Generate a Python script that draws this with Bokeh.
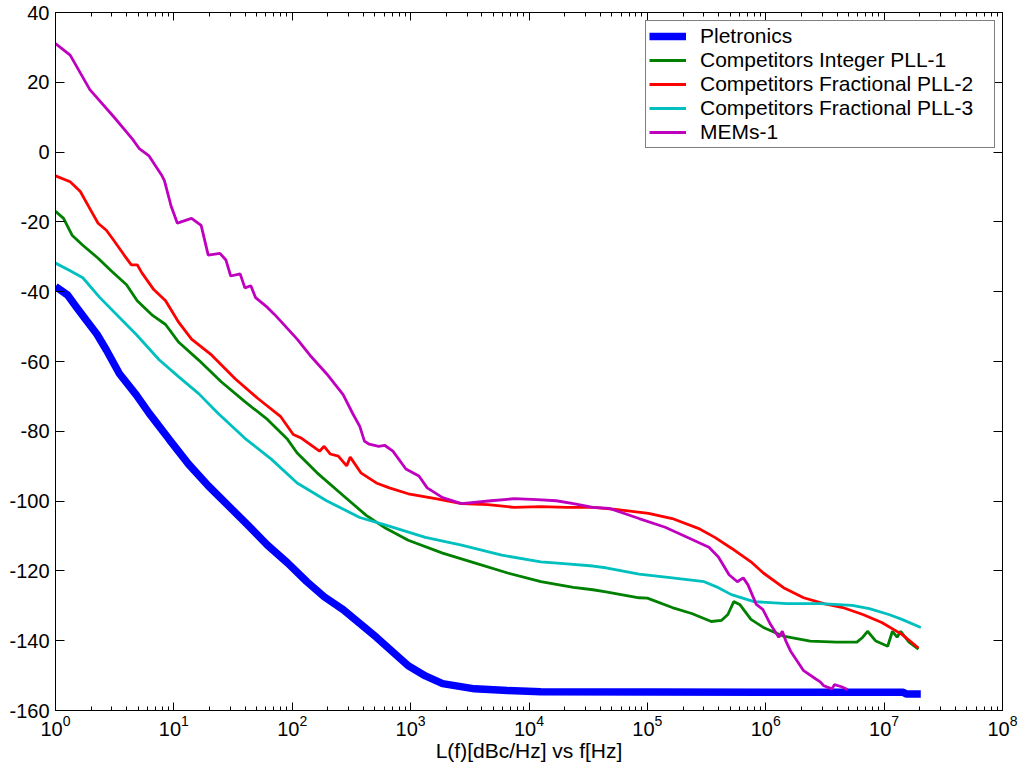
from bokeh.plotting import figure
from bokeh.models import (LogAxis, LinearAxis, Legend, LegendItem, FixedTicker,
                          LogTicker, CustomJSTickFormatter)
from bokeh.embed import file_html
from bokeh.resources import INLINE

# ---------------- data (frequency in Hz, phase noise in dBc/Hz) ----------------
pletronics_f = [1, 1.26, 1.51, 1.82, 2.24, 2.69, 3.47, 4.79, 6.17, 9.12, 13.3, 19.5,
                28.8, 42.2, 61.7, 91.2, 133, 186, 269, 513, 955, 1333, 1862, 3467,
                6607, 12590, 1e6, 1.45e7, 1.55e7, 2.04e7]
pletronics_db = [-38.5, -40.9, -44.5, -48.2, -52.2, -56.7, -63.5, -69.5, -74.8, -82.3,
                 -89.4, -95.6, -101.3, -106.9, -112.6, -117.7, -123.1, -127.4, -131.1,
                 -139.0, -147.2, -150.1, -152.3, -153.8, -154.3, -154.6, -154.8,
                 -154.8, -155.3, -155.3]

pll1_f = [1, 1.17, 1.38, 1.70, 2.29, 2.95, 3.98, 4.90, 6.61, 8.51, 11.0, 16.2, 25.1,
          39.8, 61.7, 91.2, 110, 162, 269, 422, 617, 955, 1862, 3467, 6607, 12590,
          23710, 34670, 44670, 85110, 100000, 162200, 237100, 346700, 421700, 478600,
          537000, 602600, 749900, 955000, 1.413e6, 2.371e6, 3.981e6, 5.888e6, 6.607e6,
          7.244e6, 8.511e6, 1.072e7, 1.175e7, 1.288e7, 1.380e7, 1.622e7, 1.950e7]
pll1_db = [-17.0, -19.0, -23.8, -26.7, -30.4, -34.0, -38.0, -42.6, -46.8, -49.4, -54.5,
           -59.6, -65.8, -71.5, -76.6, -82.3, -86.2, -91.9, -98.4, -104.1, -107.8,
           -111.2, -114.9, -117.7, -120.6, -123.1, -124.7, -125.4, -126.0, -127.7,
           -127.8, -130.5, -132.2, -134.5, -134.2, -132.5, -128.8, -129.6, -133.9,
           -136.2, -138.7, -140.1, -140.4, -140.4, -139.0, -137.3, -140.1, -141.6,
           -137.3, -139.0, -137.3, -140.4, -142.4]

pll2_f = [1, 1.33, 1.62, 1.95, 2.29, 2.69, 3.09, 3.80, 4.37, 4.90, 5.37, 6.76, 8.51,
          11.0, 14.1, 20.9, 33.1, 51.3, 79.4, 102, 110, 120, 170, 186, 209, 245, 288,
          309, 380, 513, 661, 955, 1622, 2692, 4467, 7499, 12590, 20890, 34670, 53700,
          102300, 162200, 269200, 371500, 512900, 749900, 955000, 1.413e6, 2.089e6,
          3.09e6, 4.467e6, 6.607e6, 9.55e6, 1.413e7, 1.95e7]
pll2_db = [-6.8, -8.5, -11.3, -16.2, -20.4, -22.4, -25.2, -29.5, -32.3, -32.3, -34.6,
           -39.4, -42.6, -48.8, -53.6, -58.2, -65.0, -70.6, -75.7, -80.9, -81.4, -82.0,
           -85.7, -84.3, -86.5, -87.1, -89.9, -87.4, -91.9, -94.8, -96.2, -97.9, -99.3,
           -100.7, -101.0, -101.8, -101.6, -101.8, -101.8, -102.4, -103.5, -105.0,
           -107.8, -110.4, -113.5, -117.4, -120.6, -124.8, -127.7, -129.4, -130.5,
           -132.5, -134.8, -138.2, -142.1]

pll3_f = [1, 1.33, 1.70, 2.37, 3.47, 4.79, 7.50, 11.0, 16.2, 23.7, 39.8, 66.1, 110, 195,
          372, 617, 1333, 2692, 5888, 12590, 20890, 34670, 44670, 85110, 162200,
          302000, 398100, 512900, 794300, 1.514e6, 2.884e6, 5.370e6, 7.499e6, 1.096e7,
          1.413e7, 2.042e7]
pll3_db = [-31.8, -34.0, -36.0, -41.7, -47.4, -52.2, -59.5, -64.4, -69.2, -74.9, -82.0,
           -87.9, -94.8, -99.9, -104.7, -106.9, -110.4, -112.6, -115.5, -117.4, -118.0,
           -118.6, -119.1, -120.9, -122.0, -123.1, -124.8, -126.8, -128.8, -129.4,
           -129.4, -129.9, -130.8, -132.5, -133.9, -136.2]

mems_f = [1, 1.33, 1.95, 3.09, 4.47, 5.13, 6.17, 7.94, 8.32, 9.12, 9.44, 10.7, 11.5,
          14.1, 17.0, 19.5, 24.5, 27.5, 30.2, 36.3, 39.8, 44.7, 49.0, 61.7, 70.8, 110,
          141, 195, 269, 324, 372, 407, 447, 537, 603, 708, 912, 1175, 1380, 1862, 2692,
          4786, 7499, 11750, 16980, 23710, 34670, 47860, 85110, 141300, 223900, 331100,
          398100, 489800, 575400, 645700, 707900, 831800, 944100, 1.096e6, 1.288e6,
          1.380e6, 1.479e6, 1.622e6, 2.089e6, 2.630e6, 2.884e6, 3.090e6, 3.631e6,
          3.802e6, 4.365e6, 4.898e6]
mems_db = [31.1, 27.8, 17.9, 10.2, 3.7, 0.9, -1.1, -6.8, -8.2, -13.3, -15.3, -20.4,
           -20.0, -19.0, -21.0, -29.5, -29.0, -30.9, -35.5, -34.9, -38.9, -38.3, -41.7,
           -44.5, -46.5, -53.6, -58.2, -63.5, -69.5, -74.9, -78.6, -82.8, -83.7, -84.3,
           -84.0, -85.7, -90.8, -92.8, -96.2, -99.0, -100.7, -99.9, -99.3, -99.6, -99.9,
           -100.7, -101.8, -102.1, -105.0, -107.5, -110.6, -113.2, -116.0, -121.1,
           -123.1, -122.0, -124.0, -129.6, -131.0, -135.3, -139.0, -137.3, -140.1,
           -143.0, -148.6, -150.9, -151.8, -152.9, -153.8, -152.6, -153.2, -154.0]

y_ticks = [-160, -140, -120, -100, -80, -60, -40, -20, 0, 20, 40]
y_tick_labels = {v: str(v) for v in y_ticks}
x_title = "L(f)[dBc/Hz] vs f[Hz]"
series_names = ["Pletronics", "Competitors Integer PLL-1", "Competitors Fractional PLL-2",
                "Competitors Fractional PLL-3", "MEMs-1"]

# ---------------- figure ----------------
FONT = "Liberation Sans"
p = figure(width=1018, height=764, x_axis_type="log", x_range=(1, 1e8),
           y_range=(-160, 40), output_backend="svg", toolbar_location=None,
           min_border_left=55, min_border_top=12, min_border_right=16,
           min_border_bottom=54, background_fill_color="white",
           border_fill_color="white")
p.grid.visible = False
p.outline_line_color = "black"
p.outline_line_width = 1

# bottom axis
xa = p.xaxis[0]
xa.ticker = LogTicker(num_minor_ticks=10)
xa.major_tick_in = 8
xa.major_tick_out = 0
xa.minor_tick_in = 4
xa.minor_tick_out = 0
xa.major_label_standoff = 4
xa.major_label_text_font = FONT
xa.major_label_text_font_size = "20px"
xa.major_label_text_color = "black"
xa.axis_label = x_title
xa.axis_label_text_font = FONT
xa.axis_label_text_font_size = "21px"
xa.axis_label_text_font_style = "normal"
xa.axis_label_text_color = "black"
xa.axis_label_standoff = 0
xa.axis_line_color = "black"

# left axis
ya = p.yaxis[0]
ya.ticker = FixedTicker(ticks=y_ticks)
ya.major_label_overrides = y_tick_labels
ya.major_tick_in = 9
ya.major_tick_out = 0
ya.minor_tick_in = 0
ya.minor_tick_out = 0
ya.major_label_standoff = 6
ya.major_label_text_font = FONT
ya.major_label_text_font_size = "20px"
ya.major_label_text_color = "black"
ya.axis_line_color = "black"

# top and right axes (ticks only, no labels)
blank = CustomJSTickFormatter(code="return '';")
top = LogAxis(ticker=LogTicker(num_minor_ticks=10), formatter=blank,
              major_tick_in=8, major_tick_out=0, minor_tick_in=4, minor_tick_out=0,
              major_label_standoff=0, axis_line_color="black")
right = LinearAxis(ticker=FixedTicker(ticks=y_ticks), formatter=blank,
                   major_tick_in=9, major_tick_out=0, minor_tick_in=0, minor_tick_out=0,
                   major_label_standoff=0, axis_line_color="black")
p.add_layout(top, "above")
p.add_layout(right, "right")

# ---------------- lines ----------------
r_blue = p.line(pletronics_f, pletronics_db, line_color="#0000FF", line_width=7.5)
r_green = p.line(pll1_f, pll1_db, line_color="#008000", line_width=2.8)
r_red = p.line(pll2_f, pll2_db, line_color="#FF0000", line_width=2.8)
r_cyan = p.line(pll3_f, pll3_db, line_color="#00BFBF", line_width=2.8)
r_mag = p.line(mems_f, mems_db, line_color="#BF00BF", line_width=2.8)

legend = Legend(items=[LegendItem(label=n, renderers=[r]) for n, r in
                       zip(series_names, [r_blue, r_green, r_red, r_cyan, r_mag])],
                location=(590, 562), border_line_color="black", border_line_width=1,
                background_fill_color="white", background_fill_alpha=1,
                label_text_font=FONT, label_text_font_size="21px",
                label_text_color="black", glyph_width=37, glyph_height=20,
                label_height=20, label_width=291, label_standoff=14, padding=3,
                spacing=0, margin=0)
p.add_layout(legend, "center")

open("out.html", "w").write(file_html(p, INLINE))
